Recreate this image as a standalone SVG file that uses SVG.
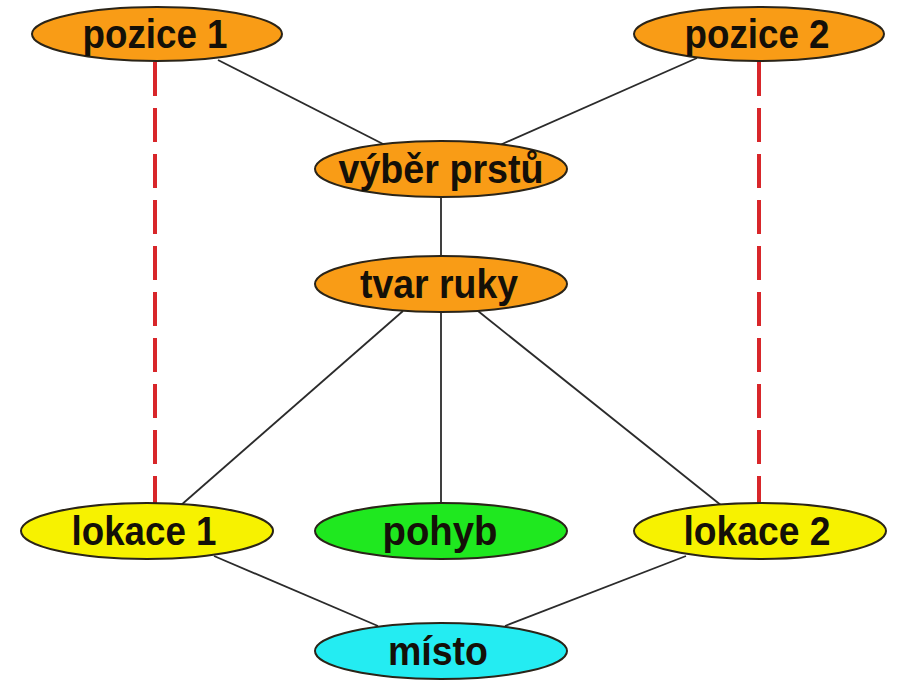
<svg xmlns="http://www.w3.org/2000/svg" width="897" height="682" viewBox="0 0 897 682">
  <style>
    .node ellipse { stroke: #2a2418; stroke-width: 2; }
    .node text { font-family: "Liberation Sans", Arial, sans-serif; font-weight: bold; font-size: 40px; fill: #141008; text-anchor: middle; }
    .orange ellipse { fill: #f99c16; }
    .yellow ellipse { fill: #f7f200; }
    .green ellipse { fill: #1fe81f; }
    .cyan ellipse { fill: #24ecf2; }
    .edge { stroke: #2b2b2b; stroke-width: 1.8; fill: none; }
    .link { stroke: #d8262a; stroke-width: 4; stroke-dasharray: 34 12; fill: none; }
  </style>
  <rect width="897" height="682" fill="#ffffff"/>

  <g id="connectors">
    <line class="edge" x1="218" y1="60" x2="385" y2="145"/>
    <line class="edge" x1="697" y1="58" x2="500" y2="145"/>
    <line class="edge" x1="441" y1="198" x2="441" y2="255"/>
    <line class="edge" x1="403" y1="311" x2="180" y2="506"/>
    <line class="edge" x1="441" y1="313" x2="441" y2="503"/>
    <line class="edge" x1="478" y1="311" x2="722" y2="506"/>
    <line class="edge" x1="214" y1="556" x2="378" y2="626"/>
    <line class="edge" x1="686" y1="556" x2="505" y2="626"/>
    <line class="link" x1="155" y1="62" x2="155" y2="504"/>
    <line class="link" x1="759" y1="62" x2="759" y2="504"/>
  </g>

  <g id="pozice1" class="node orange">
    <ellipse cx="157" cy="34" rx="125" ry="27"/>
    <text x="155" y="48" textLength="145" lengthAdjust="spacingAndGlyphs">pozice 1</text>
  </g>
  <g id="pozice2" class="node orange">
    <ellipse cx="759" cy="34" rx="125" ry="27"/>
    <text x="757" y="48" textLength="145" lengthAdjust="spacingAndGlyphs">pozice 2</text>
  </g>
  <g id="vyber-prstu" class="node orange">
    <ellipse cx="441" cy="169" rx="126" ry="28"/>
    <text x="441" y="183" textLength="205" lengthAdjust="spacingAndGlyphs">výběr prstů</text>
  </g>
  <g id="tvar-ruky" class="node orange">
    <ellipse cx="441" cy="284" rx="126" ry="28"/>
    <text x="439" y="298" textLength="158" lengthAdjust="spacingAndGlyphs">tvar ruky</text>
  </g>
  <g id="lokace1" class="node yellow">
    <ellipse cx="147" cy="531" rx="126" ry="28"/>
    <text x="144" y="545" textLength="145" lengthAdjust="spacingAndGlyphs">lokace 1</text>
  </g>
  <g id="pohyb" class="node green">
    <ellipse cx="441" cy="531" rx="126" ry="28"/>
    <text x="440" y="545" textLength="115" lengthAdjust="spacingAndGlyphs">pohyb</text>
  </g>
  <g id="lokace2" class="node yellow">
    <ellipse cx="760" cy="531" rx="126" ry="28"/>
    <text x="757" y="545" textLength="147" lengthAdjust="spacingAndGlyphs">lokace 2</text>
  </g>
  <g id="misto" class="node cyan">
    <ellipse cx="441" cy="651" rx="126" ry="28"/>
    <text x="438" y="665" textLength="100" lengthAdjust="spacingAndGlyphs">místo</text>
  </g>
</svg>
